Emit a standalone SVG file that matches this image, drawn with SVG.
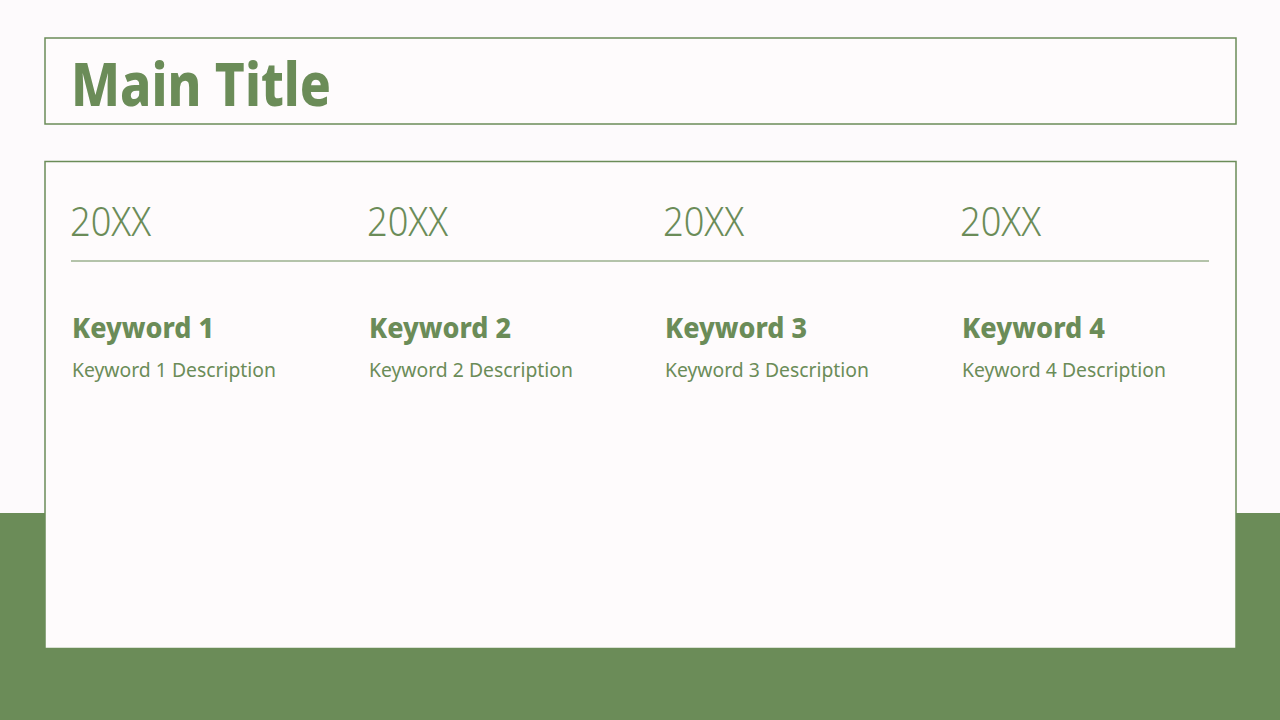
<svg xmlns="http://www.w3.org/2000/svg" width="1280" height="720" viewBox="0 0 1280 720">
<style>
.frame{fill:#fefbfc;stroke:#6b8c58;stroke-width:1.5}
.title{font-family:"Noto Sans","Liberation Sans",sans-serif;font-weight:800;font-size:60px;fill:#6b8c58}
.year{font-family:"Noto Sans","Liberation Sans",sans-serif;font-weight:300;font-size:41px;fill:#6b8c58}
.kw{font-family:"Noto Sans","Liberation Sans",sans-serif;font-weight:800;font-size:28px;fill:#6b8c58}
.desc{font-family:"Noto Sans","Liberation Sans",sans-serif;font-weight:400;font-size:20.5px;fill:#6b8c58}
</style>
<rect x="0" y="0" width="1280" height="720" fill="#fdfafc"/>
<rect x="0" y="513" width="1280" height="207" fill="#6b8c58"/>
<g id="title-box">
<rect class="frame" x="45" y="38" width="1191" height="86"/>
<text class="title" x="71" y="106" textLength="260" lengthAdjust="spacingAndGlyphs">Main Title</text>
</g>
<g id="content-box">
<rect class="frame" x="45" y="161.5" width="1191" height="487"/>
<line x1="71" y1="261" x2="1209" y2="261" stroke="#6b8c58" stroke-width="1.2"/>
</g>
<g id="col1">
<text class="year" x="70" y="236" textLength="81" lengthAdjust="spacingAndGlyphs">20XX</text>
<text class="kw" x="72" y="338" textLength="142" lengthAdjust="spacingAndGlyphs">Keyword 1</text>
<text class="desc" x="72" y="377" textLength="204" lengthAdjust="spacingAndGlyphs">Keyword 1 Description</text>
</g>
<g id="col2">
<text class="year" x="367" y="236" textLength="81" lengthAdjust="spacingAndGlyphs">20XX</text>
<text class="kw" x="369" y="338" textLength="142" lengthAdjust="spacingAndGlyphs">Keyword 2</text>
<text class="desc" x="369" y="377" textLength="204" lengthAdjust="spacingAndGlyphs">Keyword 2 Description</text>
</g>
<g id="col3">
<text class="year" x="663" y="236" textLength="81" lengthAdjust="spacingAndGlyphs">20XX</text>
<text class="kw" x="665" y="338" textLength="142" lengthAdjust="spacingAndGlyphs">Keyword 3</text>
<text class="desc" x="665" y="377" textLength="204" lengthAdjust="spacingAndGlyphs">Keyword 3 Description</text>
</g>
<g id="col4">
<text class="year" x="960" y="236" textLength="81" lengthAdjust="spacingAndGlyphs">20XX</text>
<text class="kw" x="962" y="338" textLength="143" lengthAdjust="spacingAndGlyphs">Keyword 4</text>
<text class="desc" x="962" y="377" textLength="204" lengthAdjust="spacingAndGlyphs">Keyword 4 Description</text>
</g>
<g id="connectors"/>
</svg>
